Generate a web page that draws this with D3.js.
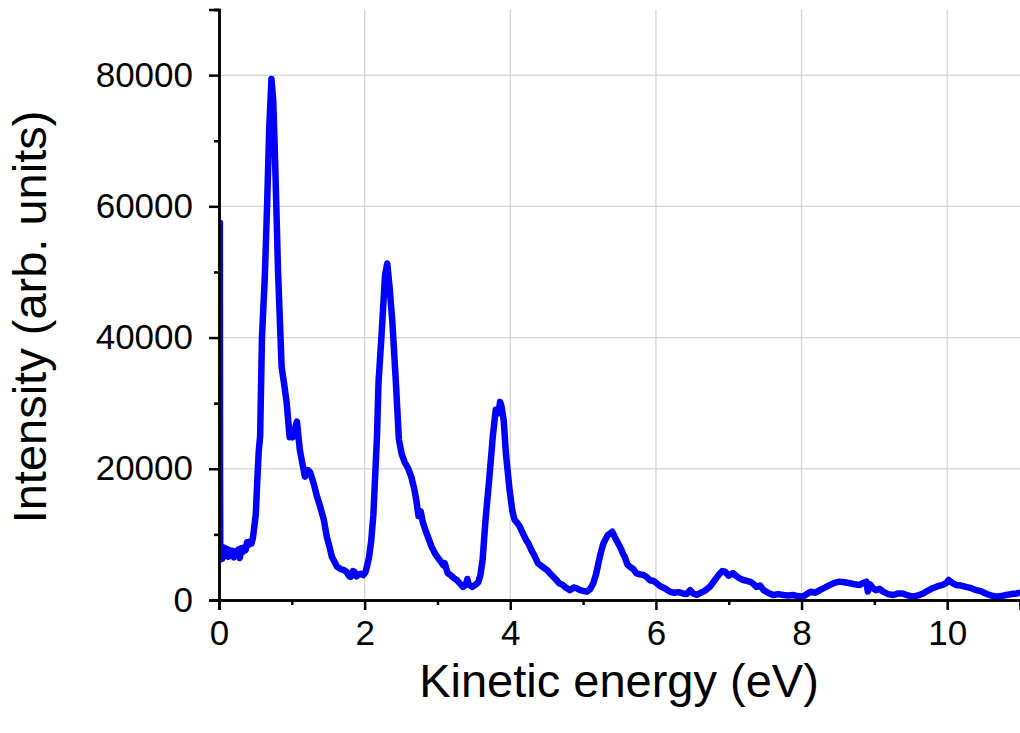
<!DOCTYPE html>
<html>
<head>
<meta charset="utf-8">
<script src="https://cdn.jsdelivr.net/npm/d3@7"></script>
<style>
  body { margin: 0; background: #fff; }
  text { font-family: "Liberation Sans", Arial, sans-serif; }
</style>
</head>
<body>
<div id="chart"></div>
<script>
// photoelectron spectrum, values
var energy = [0.012,0.014,0.018,0.030,0.045,0.065,0.085,0.105,0.125,0.145,0.165,0.185,0.205,0.225,0.245,0.265,0.285,0.305,0.325,0.345,0.365,0.385,0.405,0.425,0.445,0.465,0.485,0.505,0.525,0.545,0.565,0.590,0.630,0.660,0.690,0.720,0.745,0.765,0.785,0.810,0.860,0.900,0.930,0.970,0.990,1.010,1.040,1.070,1.110,1.150,1.180,1.220,1.250,1.300,1.340,1.390,1.420,1.440,1.480,1.520,1.550,1.620,1.670,1.710,1.750,1.790,1.810,1.840,1.860,1.890,1.910,1.950,1.980,2.010,2.030,2.060,2.090,2.120,2.140,2.170,2.190,2.230,2.280,2.310,2.340,2.380,2.430,2.470,2.510,2.550,2.600,2.640,2.680,2.710,2.740,2.770,2.800,2.850,2.890,2.920,2.970,3.030,3.080,3.100,3.140,3.190,3.230,3.270,3.310,3.350,3.390,3.410,3.430,3.450,3.480,3.520,3.560,3.590,3.620,3.660,3.710,3.760,3.800,3.840,3.860,3.880,3.910,3.940,3.990,4.030,4.060,4.100,4.130,4.180,4.220,4.250,4.290,4.330,4.380,4.440,4.500,4.550,4.590,4.630,4.670,4.720,4.760,4.820,4.870,4.910,4.960,5.000,5.050,5.100,5.140,5.180,5.210,5.250,5.280,5.340,5.400,5.440,5.480,5.520,5.550,5.570,5.610,5.640,5.690,5.730,5.780,5.830,5.870,5.920,5.970,6.010,6.060,6.120,6.190,6.250,6.310,6.370,6.420,6.470,6.510,6.560,6.600,6.670,6.740,6.800,6.860,6.910,6.950,7.000,7.060,7.110,7.150,7.200,7.250,7.290,7.330,7.380,7.430,7.480,7.540,7.610,7.680,7.750,7.820,7.880,7.950,8.020,8.070,8.130,8.190,8.250,8.320,8.390,8.450,8.520,8.590,8.660,8.730,8.800,8.850,8.890,8.910,8.940,8.980,9.020,9.070,9.120,9.190,9.260,9.330,9.390,9.460,9.530,9.600,9.670,9.730,9.800,9.870,9.940,9.990,10.020,10.070,10.120,10.190,10.260,10.330,10.400,10.470,10.530,10.600,10.670,10.740,10.810,10.880,10.950,11.000];
var intensity = [57500,20000,6200,7600,6300,8000,6700,7800,6600,7600,6900,7500,6500,7300,6900,7700,6400,7900,7300,8000,7600,8800,8400,8900,8600,9400,11200,13000,18000,22500,25000,40000,49500,60000,72000,79400,76000,69000,61000,50300,35500,32500,30000,24800,25300,24800,26000,27200,22900,20500,18800,19800,19500,17800,16000,14200,13000,12200,9650,8000,6600,5100,4700,4600,4300,3600,3550,4400,4300,3600,3800,4000,3800,4200,5000,6500,9000,13000,17800,25000,33000,40000,49500,51300,48000,42500,33000,24500,22200,21000,20000,18800,17000,15200,12800,13500,11800,10200,9000,8100,7000,6100,5300,5600,4100,3700,3300,3000,2500,2000,2300,3200,2400,2200,2000,2300,2700,3800,6100,12200,18300,24900,29000,28500,30200,29500,27400,22300,16800,13500,12200,11700,11200,10000,9100,8600,7600,6800,5600,5100,4600,4000,3550,3100,2550,2300,1900,1500,1900,1800,1500,1400,1270,1700,2550,4000,5600,7500,8650,9900,10400,9500,8650,7800,7000,6600,5400,5100,4700,4100,3900,3800,3550,3000,2900,2550,2100,1800,1270,1100,1200,1000,900,1500,1000,800,1000,1400,2000,2900,3800,4400,4300,3700,4100,3600,3300,3050,2900,2800,2550,2000,2200,1500,1100,760,900,760,700,760,600,500,900,1270,1100,1500,1900,2300,2600,2800,2700,2550,2400,2300,2600,2800,1300,2400,1800,1500,1700,1270,900,760,1000,1000,700,500,700,1000,1400,1800,2100,2300,2600,3050,2600,2300,2200,2000,1800,1500,1300,1000,700,500,600,760,900,1000,1100];

var xMajor = [0, 2, 4, 6, 8, 10];
var xMinor = [1, 3, 5, 7, 9];
var yMajor = [0, 20000, 40000, 60000, 80000];
var yMinor = [10000, 30000, 50000, 70000, 90000];

var margin = {top: 9.5, right: 0, bottom: 133, left: 219};
var W = 1020, H = 733;
var width = W - margin.left - margin.right;
var height = H - margin.top - margin.bottom;

var svg = d3.select("#chart").append("svg")
    .attr("width", W)
    .attr("height", H)
  .append("g")
    .attr("transform", "translate(" + margin.left + "," + margin.top + ")");

var x = d3.scaleLinear().domain([0, 11]).range([0, width]);
var y = d3.scaleLinear().domain([0, 90000]).range([height, 0]);

// grid
svg.append("g").selectAll("line").data(xMajor.slice(1)).enter().append("line")
    .attr("x1", d => x(d)).attr("x2", d => x(d))
    .attr("y1", 0).attr("y2", height)
    .attr("stroke", "#d3d3d3").attr("stroke-width", 1.3);
svg.append("g").selectAll("line").data(yMajor.slice(1)).enter().append("line")
    .attr("x1", 0).attr("x2", width)
    .attr("y1", d => y(d)).attr("y2", d => y(d))
    .attr("stroke", "#d3d3d3").attr("stroke-width", 1.3);

// spectrum
svg.append("clipPath").attr("id", "clip")
  .append("rect").attr("x", 0).attr("y", -5).attr("width", width + 5).attr("height", height + 5);

var pts = energy.map((e, i) => [e, intensity[i]]);
var line = d3.line().x(d => x(d[0])).y(d => y(d[1]));

svg.append("path")
    .attr("d", line(pts))
    .attr("clip-path", "url(#clip)")
    .attr("fill", "none")
    .attr("stroke", "#0000ff")
    .attr("stroke-width", 6.5)
    .attr("stroke-linejoin", "round")
    .attr("stroke-linecap", "round");

// axes
var xAxis = d3.axisBottom(x).tickValues(xMajor).tickSize(10).tickPadding(10).tickFormat(d3.format("d"));
var xAxisMinor = d3.axisBottom(x).tickValues(xMinor).tickSize(5).tickFormat("");
var yAxis = d3.axisLeft(y).tickValues(yMajor).tickSize(10).tickPadding(16).tickFormat(d3.format("d"));
var yAxisMinor = d3.axisLeft(y).tickValues(yMinor).tickSize(5).tickFormat("");

function styleAxis(g) {
  g.selectAll("path").attr("stroke", "#000").attr("stroke-width", 2.5);
  g.selectAll("line").attr("stroke", "#000").attr("stroke-width", 2.5);
  g.selectAll("text").attr("fill", "#000").style("font-size", "35px");
}

svg.append("g").attr("transform", "translate(0," + height + ")").call(xAxisMinor).call(styleAxis);
svg.append("g").call(yAxisMinor).call(styleAxis);
svg.append("g").attr("transform", "translate(0," + height + ")").call(xAxis).call(styleAxis);
svg.append("g").call(yAxis).call(styleAxis);

// titles
svg.append("text")
    .attr("x", 619 - margin.left)
    .attr("y", 697 - margin.top)
    .attr("text-anchor", "middle")
    .style("font-size", "47px")
    .text("Kinetic energy (eV)");

svg.append("text")
    .attr("transform", "translate(" + (46 - margin.left) + "," + (317 - margin.top) + ") rotate(-90)")
    .attr("text-anchor", "middle")
    .style("font-size", "47px")
    .text("Intensity (arb. units)");
</script>
</body>
</html>
